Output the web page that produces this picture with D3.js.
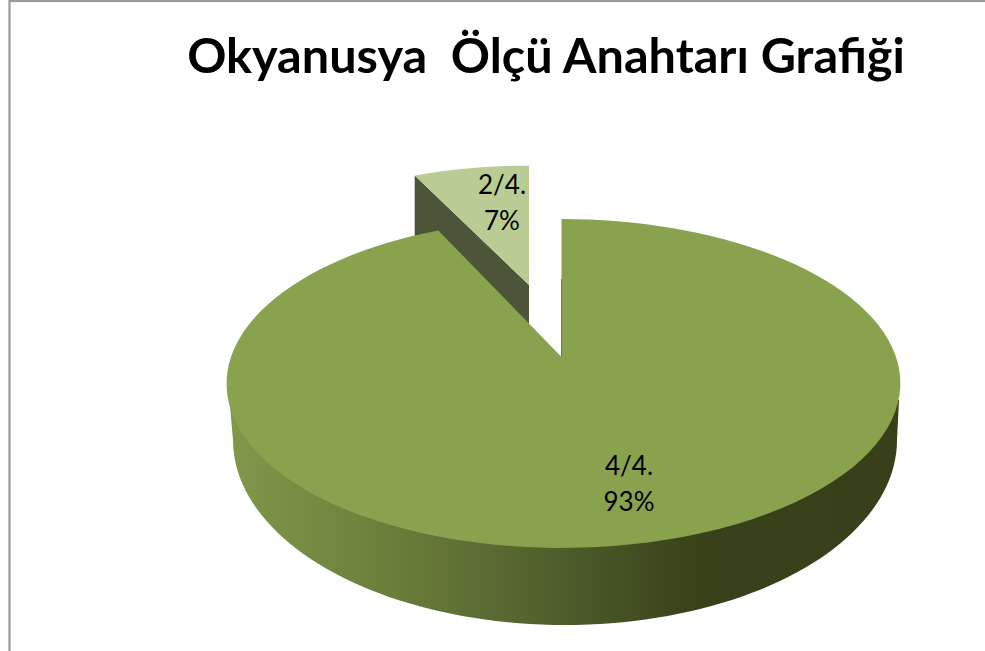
<!DOCTYPE html>
<html><head><meta charset="utf-8">
<script src="https://cdn.jsdelivr.net/npm/d3@7"></script>
<style>html,body{margin:0;padding:0;background:#fff;overflow:hidden}svg{display:block}</style>
</head><body><svg id="c" width="985" height="651"></svg>
<script>
const chartTitle = "Okyanusya  Ölçü Anahtarı Grafiği";
const categories = ["4/4.", "2/4."];
const percents = [93, 7];
const percentLabels = ["93%", "7%"];

const svg = d3.select("#c");
const defs = svg.append("defs");
const grad = defs.append("linearGradient").attr("id", "wall")
  .attr("gradientUnits", "userSpaceOnUse").attr("x1", 232).attr("x2", 896).attr("y1", 0).attr("y2", 0);
[[0, "#7f984a"], [0.25, "#697d3a"], [0.5, "#4d5d2b"], [0.7, "#384219"], [1, "#374019"]]
  .forEach(([o, c]) => grad.append("stop").attr("offset", o).attr("stop-color", c));

// Frame
svg.append("rect").attr("x", 9.5).attr("y", 1).attr("width", 1000).attr("height", 700)
  .attr("fill", "#fff").attr("stroke", "#999").attr("stroke-width", 2.2);

// Perspective projection of the pie plane
const k = 0.161, A = 160.2, B = 332.5;
const project = (theta, r, o) => {
  const u = r * Math.sin(theta), v = -r * Math.cos(theta), w = 1 - k * v;
  return [o.cx + o.sx * B * u / w + o.lean * u * u, o.cy + o.sy * A * v / w];
};
const slices = d3.pie().sort(null).value(d => d).startAngle(0).endAngle(2 * Math.PI)(percents);
const line = d3.line();
const sectorPath = (s, o) => {
  const n = 120;
  const angle = d3.scaleLinear().domain([0, n]).range([s.startAngle, s.endAngle]);
  const pts = [[o.cx, o.cy], ...d3.range(n + 1).map(i => project(angle(i), 1, o))];
  return line(pts) + "Z";
};

const mainO = {cx: 561.5, cy: 357, sx: 1, sy: 1, lean: 2};
const smallO = {cx: 529, cy: 285, sx: 0.925, sy: 0.865, lean: 0};

// Side wall of the main slice
const wallCx = 565, wallCy = 440, wallRx = 332, wallRy = 185;
const wallPts = d3.range(0, 181, 2).map(d => {
  const t = d * Math.PI / 180;
  return [wallCx - wallRx * Math.cos(t), wallCy + wallRy * Math.sin(t)];
});
svg.append("path").attr("fill", "url(#wall)")
  .attr("d", line([[229.5, 400], ...wallPts, [899, 400]]) + "Z");

// Exploded small slice: wall then top
const sp = project(slices[1].startAngle, 1, smallO);
svg.append("path").attr("fill", "#4c5538")
  .attr("d", line([sp, [smallO.cx, smallO.cy], [smallO.cx, smallO.cy + 66], [sp[0], sp[1] + 66]]) + "Z");
svg.append("path").attr("fill", "#b8cc94").attr("d", sectorPath(slices[1], smallO));

// Main slice top
svg.append("path").attr("fill", "#88a24e").attr("d", sectorPath(slices[0], mainO));
const te = project(0, 1, mainO);
svg.append("line").attr("x1", te[0]).attr("y1", te[1] + 60).attr("x2", mainO.cx).attr("y2", mainO.cy)
  .attr("stroke", "#6f8240").attr("stroke-width", 1);

// Title
svg.append("text").attr("x", 546).attr("y", 73).attr("text-anchor", "middle")
  .attr("font-family", "Lato, 'Open Sans', sans-serif").attr("font-weight", 700)
  .attr("font-size", 48.6).attr("fill", "#000").style("white-space", "pre").text(chartTitle);

// Data labels
const labelPos = [[629, 475, 511], [502, 194, 230]];
categories.forEach((c, i) => {
  const t = svg.append("text").attr("text-anchor", "middle")
    .attr("font-family", "Lato, 'Open Sans', sans-serif").attr("font-size", 26).attr("fill", "#000");
  t.append("tspan").attr("x", labelPos[i][0]).attr("y", labelPos[i][1]).text(c);
  t.append("tspan").attr("x", labelPos[i][0]).attr("y", labelPos[i][2]).text(percentLabels[i]);
});
</script></body></html>
